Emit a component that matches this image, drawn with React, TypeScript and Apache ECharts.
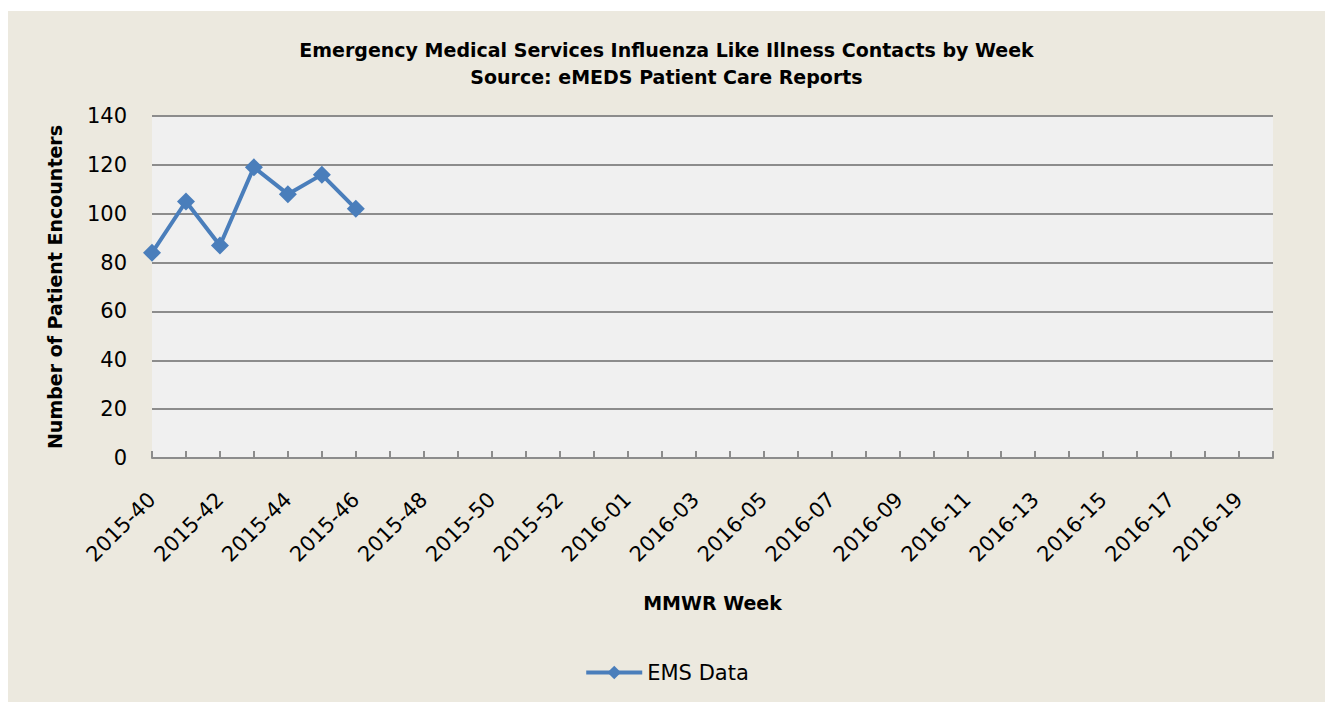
import React, { useEffect, useRef } from "react";
import * as echarts from "echarts";

const weeks: string[] = [
  "2015-40", "2015-41", "2015-42", "2015-43", "2015-44", "2015-45", "2015-46", "2015-47",
  "2015-48", "2015-49", "2015-50", "2015-51", "2015-52", "2015-53", "2016-01", "2016-02",
  "2016-03", "2016-04", "2016-05", "2016-06", "2016-07", "2016-08", "2016-09", "2016-10",
  "2016-11", "2016-12", "2016-13", "2016-14", "2016-15", "2016-16", "2016-17", "2016-18",
  "2016-19", "2016-20",
];

const emsData: (number | null)[] = [84, 105, 87, 119, 108, 116, 102];

const titleLines: string[] = [
  "Emergency Medical Services Influenza Like Illness Contacts by Week",
  "Source: eMEDS Patient Care Reports",
];

const FONT = "'DejaVu Sans', Verdana, sans-serif";

export default function App() {
  const ref = useRef<HTMLDivElement>(null);

  useEffect(() => {
    if (!ref.current) return;
    const chart = echarts.init(ref.current, undefined, { renderer: "svg" });
    chart.setOption({
      animation: false,
      backgroundColor: "#ECE9DF",
      title: {
        text: titleLines.join("\n"),
        left: "center",
        top: 20,
        textStyle: {
          fontFamily: FONT,
          fontWeight: "bold",
          fontSize: 19,
          lineHeight: 27,
          color: "#000",
        },
      },
      legend: {
        bottom: 14,
        left: "center",
        itemWidth: 56,
        itemHeight: 17,
        itemGap: 4,
        textStyle: { fontFamily: FONT, fontSize: 21, color: "#000" },
        lineStyle: { width: 4 },
        data: ["EMS Data"],
      },
      grid: {
        left: 144,
        top: 105,
        width: 1121,
        height: 342,
        show: true,
        backgroundColor: "#F0F0F0",
        borderWidth: 0,
      },
      xAxis: {
        type: "category",
        data: weeks,
        boundaryGap: false,
        name: "MMWR Week",
        nameLocation: "middle",
        nameGap: 145,
        nameTextStyle: {
          fontFamily: FONT,
          fontWeight: "bold",
          fontSize: 19,
          color: "#000",
          verticalAlign: "middle",
        },
        axisLine: { show: true, lineStyle: { color: "#8C8C8C", width: 2 } },
        axisTick: { show: true, inside: true, length: 7, interval: 0, lineStyle: { color: "#8C8C8C", width: 2 } },
        axisLabel: {
          interval: 1,
          rotate: 45,
          margin: 38,
          fontFamily: FONT,
          fontSize: 21,
          color: "#000",
        },
        splitLine: { show: false },
      },
      yAxis: {
        type: "value",
        min: 0,
        max: 140,
        interval: 20,
        name: "Number of Patient Encounters",
        nameLocation: "middle",
        nameGap: 97,
        nameTextStyle: {
          fontFamily: FONT,
          fontWeight: "bold",
          fontSize: 19,
          color: "#000",
          verticalAlign: "middle",
        },
        axisLine: { show: false },
        axisTick: { show: false },
        axisLabel: { margin: 25, fontFamily: FONT, fontSize: 21, color: "#000" },
        splitLine: { show: true, lineStyle: { color: "#8C8C8C", width: 2 } },
      },
      series: [
        {
          name: "EMS Data",
          type: "line",
          data: emsData,
          symbol: "diamond",
          symbolSize: 18,
          color: "#4A7EBB",
          lineStyle: { width: 4, color: "#4A7EBB" },
          itemStyle: { color: "#4A7EBB" },
        },
      ],
    });
    return () => chart.dispose();
  }, []);

  return (
    <div
      ref={ref}
      style={{ position: "absolute", left: 8, top: 11, width: 1317, height: 691 }}
    />
  );
}
